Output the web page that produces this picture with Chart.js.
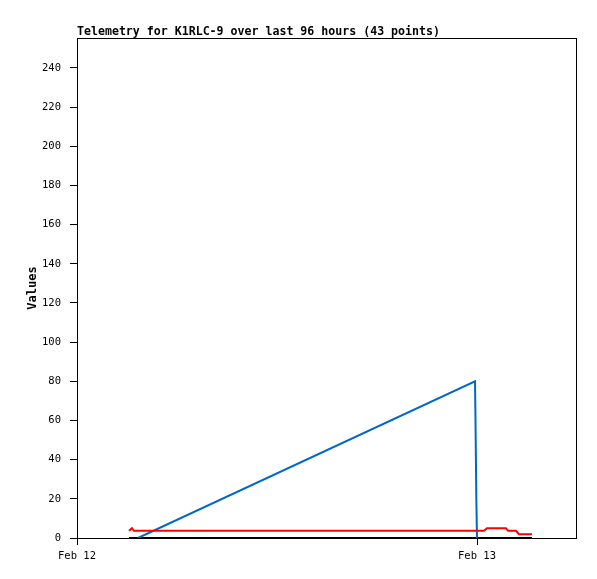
<!DOCTYPE html>
<html>
<head>
<meta charset="utf-8">
<script src="https://cdn.jsdelivr.net/npm/chart.js@4.4.0/dist/chart.umd.min.js"></script>
<style>
  body { margin: 0; background: #fff; }
  #wrap { width: 597px; height: 579px; }
</style>
</head>
<body>
<div id="wrap"><canvas id="telemetryChart" width="597" height="579"></canvas></div>
<script>
// hours since Feb 12 00:00
const xTickHours = [0, 24];
const xTickLabels = ["Feb 12", "Feb 13"];
const yTicks = [0, 20, 40, 60, 80, 100, 120, 140, 160, 180, 200, 220, 240];

const redHours = [3.12, 3.3, 3.42, 24.42, 24.6, 25.74, 25.86, 26.34, 26.52, 27.3];
const redValues = [3.7, 5, 3.7, 3.7, 5, 5, 3.7, 3.7, 1.9, 1.9];

const blueHours = [3.66, 23.88, 23.91, 23.96, 24.0];
const blueValues = [0, 80, 60, 20, 0];

const blackHours = [3.12, 27.3];
const blackValues = [0, 0];

const chartTitle = "Telemetry for K1RLC-9 over last 96 hours (43 points)";

function toPoints(hours, values) {
    const pts = [];
    for (let i = 0; i < hours.length; i++) {
        pts.push({ x: hours[i], y: values[i] });
    }
    return pts;
}

// frame around the plot + title at left of plot area
const framePlugin = {
    id: 'frame',
    beforeDatasetsDraw(chart) {
        const a = chart.chartArea;
        const ctx = chart.ctx;
        ctx.save();
        ctx.strokeStyle = '#000';
        ctx.lineWidth = 1;
        ctx.strokeRect(a.left + 0.5, a.top + 0.5, a.right - a.left - 1, a.bottom - a.top);
        ctx.fillStyle = '#000';
        ctx.font = 'bold 11.6px "DejaVu Sans Mono"';
        ctx.textBaseline = 'alphabetic';
        ctx.textAlign = 'left';
        ctx.fillText(chartTitle, a.left, a.top - 3);
        ctx.restore();
    }
};

var ctx = document.getElementById('telemetryChart');

var telemetryChart = new Chart(ctx, {
    type: 'line',
    data: {
        datasets: [
            {
                label: "red",
                data: toPoints(redHours, redValues),
                borderColor: '#ff0000',
                borderWidth: 2,
                pointRadius: 0,
                tension: 0,
            },
            {
                label: "blue",
                data: toPoints(blueHours, blueValues),
                borderColor: '#0066cc',
                borderWidth: 2,
                pointRadius: 0,
                tension: 0,
            },
            {
                label: "black",
                data: toPoints(blackHours, blackValues),
                borderColor: '#000000',
                borderWidth: 2,
                pointRadius: 0,
                tension: 0,
            },
        ]
    },
    options: {
        responsive: false,
        animation: false,
        layout: { padding: { left: 0, right: 20, top: 38, bottom: 0 } },
        scales: {
            x: {
                type: 'linear',
                min: 0,
                max: 30,
                border: { display: false },
                grid: { drawOnChartArea: false, drawTicks: true, tickLength: 7, color: '#000' },
                afterBuildTicks: function(scale) {
                    scale.ticks = xTickHours.map(v => ({ value: v }));
                },
                afterFit: function(scale) { scale.height = 41; },
                ticks: {
                    color: '#000',
                    padding: 5,
                    maxRotation: 0,
                    font: { family: '"DejaVu Sans Mono"', size: 10.5 },
                    callback: function(value) {
                        const i = xTickHours.indexOf(value);
                        return i >= 0 ? xTickLabels[i] : '';
                    }
                }
            },
            y: {
                min: 0,
                max: 255.3,
                border: { display: false },
                grid: { drawOnChartArea: false, drawTicks: true, tickLength: 7, color: '#000' },
                afterBuildTicks: function(scale) {
                    scale.ticks = yTicks.map(v => ({ value: v }));
                },
                afterFit: function(scale) { scale.width = 77; },
                title: {
                    display: true,
                    text: 'Values',
                    color: '#000',
                    font: { family: '"DejaVu Sans Mono"', size: 12, weight: 'bold' },
                    padding: { top: 26, bottom: 0 }
                },
                ticks: {
                    color: '#000',
                    padding: 9,
                    font: { family: '"DejaVu Sans Mono"', size: 10.5 }
                }
            }
        },
        plugins: {
            legend: { display: false },
            tooltip: { enabled: false }
        }
    },
    plugins: [framePlugin]
});
</script>
</body>
</html>
